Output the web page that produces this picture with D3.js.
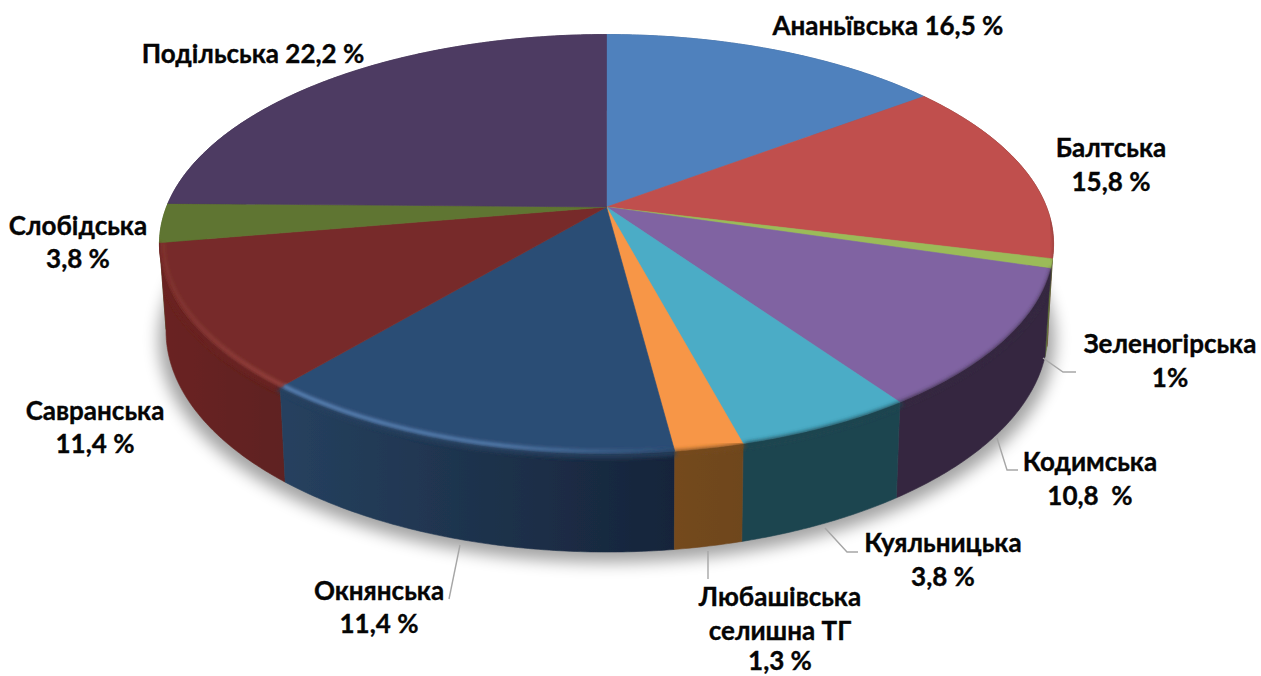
<!DOCTYPE html>
<html><head><meta charset="utf-8">
<script src="https://cdnjs.cloudflare.com/ajax/libs/d3/7.8.5/d3.min.js"></script>
<style>html,body{margin:0;padding:0;background:#fff}svg{display:block}
text{font-family:Lato,"Open Sans","Noto Sans",sans-serif;font-weight:700;font-size:26px;fill:#050505;stroke:#050505;stroke-width:.35px;white-space:pre;text-anchor:middle}</style>
</head><body><svg id="c" width="1261" height="676"></svg>
<script>
// data
const categories=["Ананьївська","Балтська","Зеленогірська","Кодимська","Куяльницька","Любашівська селишна ТГ","Окнянська","Савранська","Слобідська","Подільська"];
const printedLabels=["16,5 %","15,8 %","1%","10,8  %","3,8 %","1,3 %","11,4 %","11,4 %","3,8 %","22,2 %"];
const sliceShares=[14.7,14.2,0.72,10.7,5.5,2.1,13.1,11.2,3.0,24.7];
// styles
const topColors=["#4f81bd","#c0504d","#9bbb59","#8064a2","#4bacc6","#f79646","#2c4d75","#772c2a","#5f7530","#4d3b62"];
const wallLeft=["#3b608e","#7d3230","#62783a","#352840","#1f4550","#74491f","#26415f","#6a2421","#4f6228","#3a2c4a"];
const wallRight=["#3b608e","#6d2a28","#62783a","#352840","#1f4450","#6e461e","#16243a","#5f2220","#4f6228","#3a2c4a"];
const rimLights=[null,null,null,null,null,null,{color:"#5a82b4",x0:280,x1:680},{color:"#93403c",x0:160,x1:285},null,null];
// layout
const labelLines=[
 [["Ананьївська 16,5 %",888,35]],
 [["Балтська",1111,157],["15,8 %",1111,191]],
 [["Зеленогірська",1170,353],["1%",1170,387]],
 [["Кодимська",1090,471],["10,8  %",1090,505]],
 [["Куяльницька",943,552],["3,8 %",943,586]],
 [["Любашівська",780,606],["селишна ТГ",780,640],["1,3 %",780,670]],
 [["Окнянська",379,600],["11,4 %",379,633]],
 [["Савранська",95,420],["11,4 %",95,453]],
 [["Слобідська",78,235],["3,8 %",78,268]],
 [["Подільська 22,2 %",253,63]]];
const leaders=[
 [[1043,358],[1063,372],[1076,372]],
 [[997,438],[1007,470],[1018,470]],
 [[825,528],[847,552],[858,552]],
 [[708,551],[708,579]],
 [[460,545],[449,599]]];
const topShape={cx:606.5,cy:207,A:203,B:440};
const baseShape={cx:607,cy:292,A:214,B:434};
const persp=0.177;

const svg=d3.select("#c");
const defs=svg.append("defs");
const blur=(id,s)=>defs.append("filter").attr("id",id).attr("x","-20%").attr("y","-20%").attr("width","140%").attr("height","140%")
  .append("feGaussianBlur").attr("stdDeviation",s);
blur("b8",8);blur("b2",2.2);blur("b1",1.4);blur("b05",0.5);

const project=(sh,a,r=1)=>{const u=Math.sin(a)*r,v=Math.cos(a)*r,s=1/(1+persp*v);
  return [sh.cx+sh.B*u*s,sh.cy-sh.A*v*s];};
const arcPts=(sh,a0,a1,r=1)=>{const n=Math.max(2,Math.ceil(Math.abs(a1-a0)/0.01));
  return d3.range(n+1).map(i=>project(sh,a0+(a1-a0)*i/n,r));};
const line=d3.line();
const slices=d3.pie().sort(null).value(d=>d).startAngle(0).endAngle(2*Math.PI)(sliceShares);

// ground shadow
svg.append("path").attr("d",line(arcPts({...baseShape,cy:baseShape.cy+8,A:baseShape.A+2,B:baseShape.B+7},0,2*Math.PI))+"Z")
  .attr("fill","#000").attr("opacity",.36).attr("filter","url(#b8)");

// silhouette clip for the soft rim
const clip=defs.append("clipPath").attr("id","sil");
clip.append("path").attr("d",line(arcPts(topShape,0,2*Math.PI))+"Z");
slices.forEach(d=>clip.append("path").attr("d",line(arcPts(topShape,d.startAngle,d.endAngle).concat(arcPts(baseShape,d.startAngle,d.endAngle).reverse()))+"Z"));

const pie=svg.append("g").attr("filter","url(#b05)");
// walls, back to front
const order=slices.map((d,i)=>({d,i})).sort((p,q)=>Math.cos((q.d.startAngle+q.d.endAngle)/2)-Math.cos((p.d.startAngle+p.d.endAngle)/2));
order.forEach(({d,i})=>{
  const t=arcPts(topShape,d.startAngle,d.endAngle),b=arcPts(baseShape,d.startAngle,d.endAngle).reverse();
  const xs=t.concat(b).map(p=>p[0]);
  const g=defs.append("linearGradient").attr("id","w"+i).attr("gradientUnits","userSpaceOnUse")
    .attr("x1",d3.min(xs)).attr("x2",d3.max(xs)).attr("y1",0).attr("y2",0);
  g.append("stop").attr("offset",0).attr("stop-color",wallLeft[i]);
  g.append("stop").attr("offset",1).attr("stop-color",wallRight[i]);
  pie.append("path").attr("d",line(t.concat(b))+"Z").attr("fill",`url(#w${i})`).attr("stroke",`url(#w${i})`).attr("stroke-width",.6);
});
// top face
slices.forEach((d,i)=>{
  pie.append("path").attr("d",line([[topShape.cx,topShape.cy]].concat(arcPts(topShape,d.startAngle,d.endAngle)))+"Z")
    .attr("fill",topColors[i]).attr("stroke",topColors[i]).attr("stroke-width",.6);
});
// soft rim between face and wall
const rimFrom=92*Math.PI/180,rimTo=262*Math.PI/180;
const rimG=pie.append("g").attr("clip-path","url(#sil)");
slices.forEach((d,i)=>{
  const a0=Math.max(d.startAngle,rimFrom),a1=Math.min(d.endAngle,rimTo);
  if(a1<=a0)return;
  rimG.append("path").attr("d",line(arcPts(topShape,a0,a1,1.006))).attr("fill","none")
    .attr("stroke",wallLeft[i]).attr("stroke-width",5).attr("filter","url(#b2)");
});
// highlight on the lit side of the rim, tinted per slice
slices.forEach((d,i)=>{
  const L=rimLights[i]; if(!L)return;
  const g=defs.append("linearGradient").attr("id","hl"+i).attr("gradientUnits","userSpaceOnUse")
    .attr("x1",L.x0).attr("x2",L.x1).attr("y1",0).attr("y2",0);
  const stops=i===6?[[0,.95],[.55,.8],[1,0]]:[[0,.25],[.5,.7],[1,1]];
  stops.forEach(s=>g.append("stop").attr("offset",s[0]).attr("stop-color",L.color).attr("stop-opacity",s[1]));
  rimG.append("path").attr("d",line(arcPts(topShape,d.startAngle,Math.min(d.endAngle,rimTo),.992))).attr("fill","none")
    .attr("stroke",`url(#hl${i})`).attr("stroke-width",4).attr("filter","url(#b1)");
});

// leader lines
svg.append("g").selectAll("path").data(leaders).join("path").attr("d",d=>line(d))
  .attr("fill","none").attr("stroke","#a6a6a6").attr("stroke-width",1.4);
// labels
const lab=svg.append("g");
labelLines.forEach(ls=>ls.forEach(l=>lab.append("text").attr("x",l[1]).attr("y",l[2]).text(l[0])));
</script></body></html>
